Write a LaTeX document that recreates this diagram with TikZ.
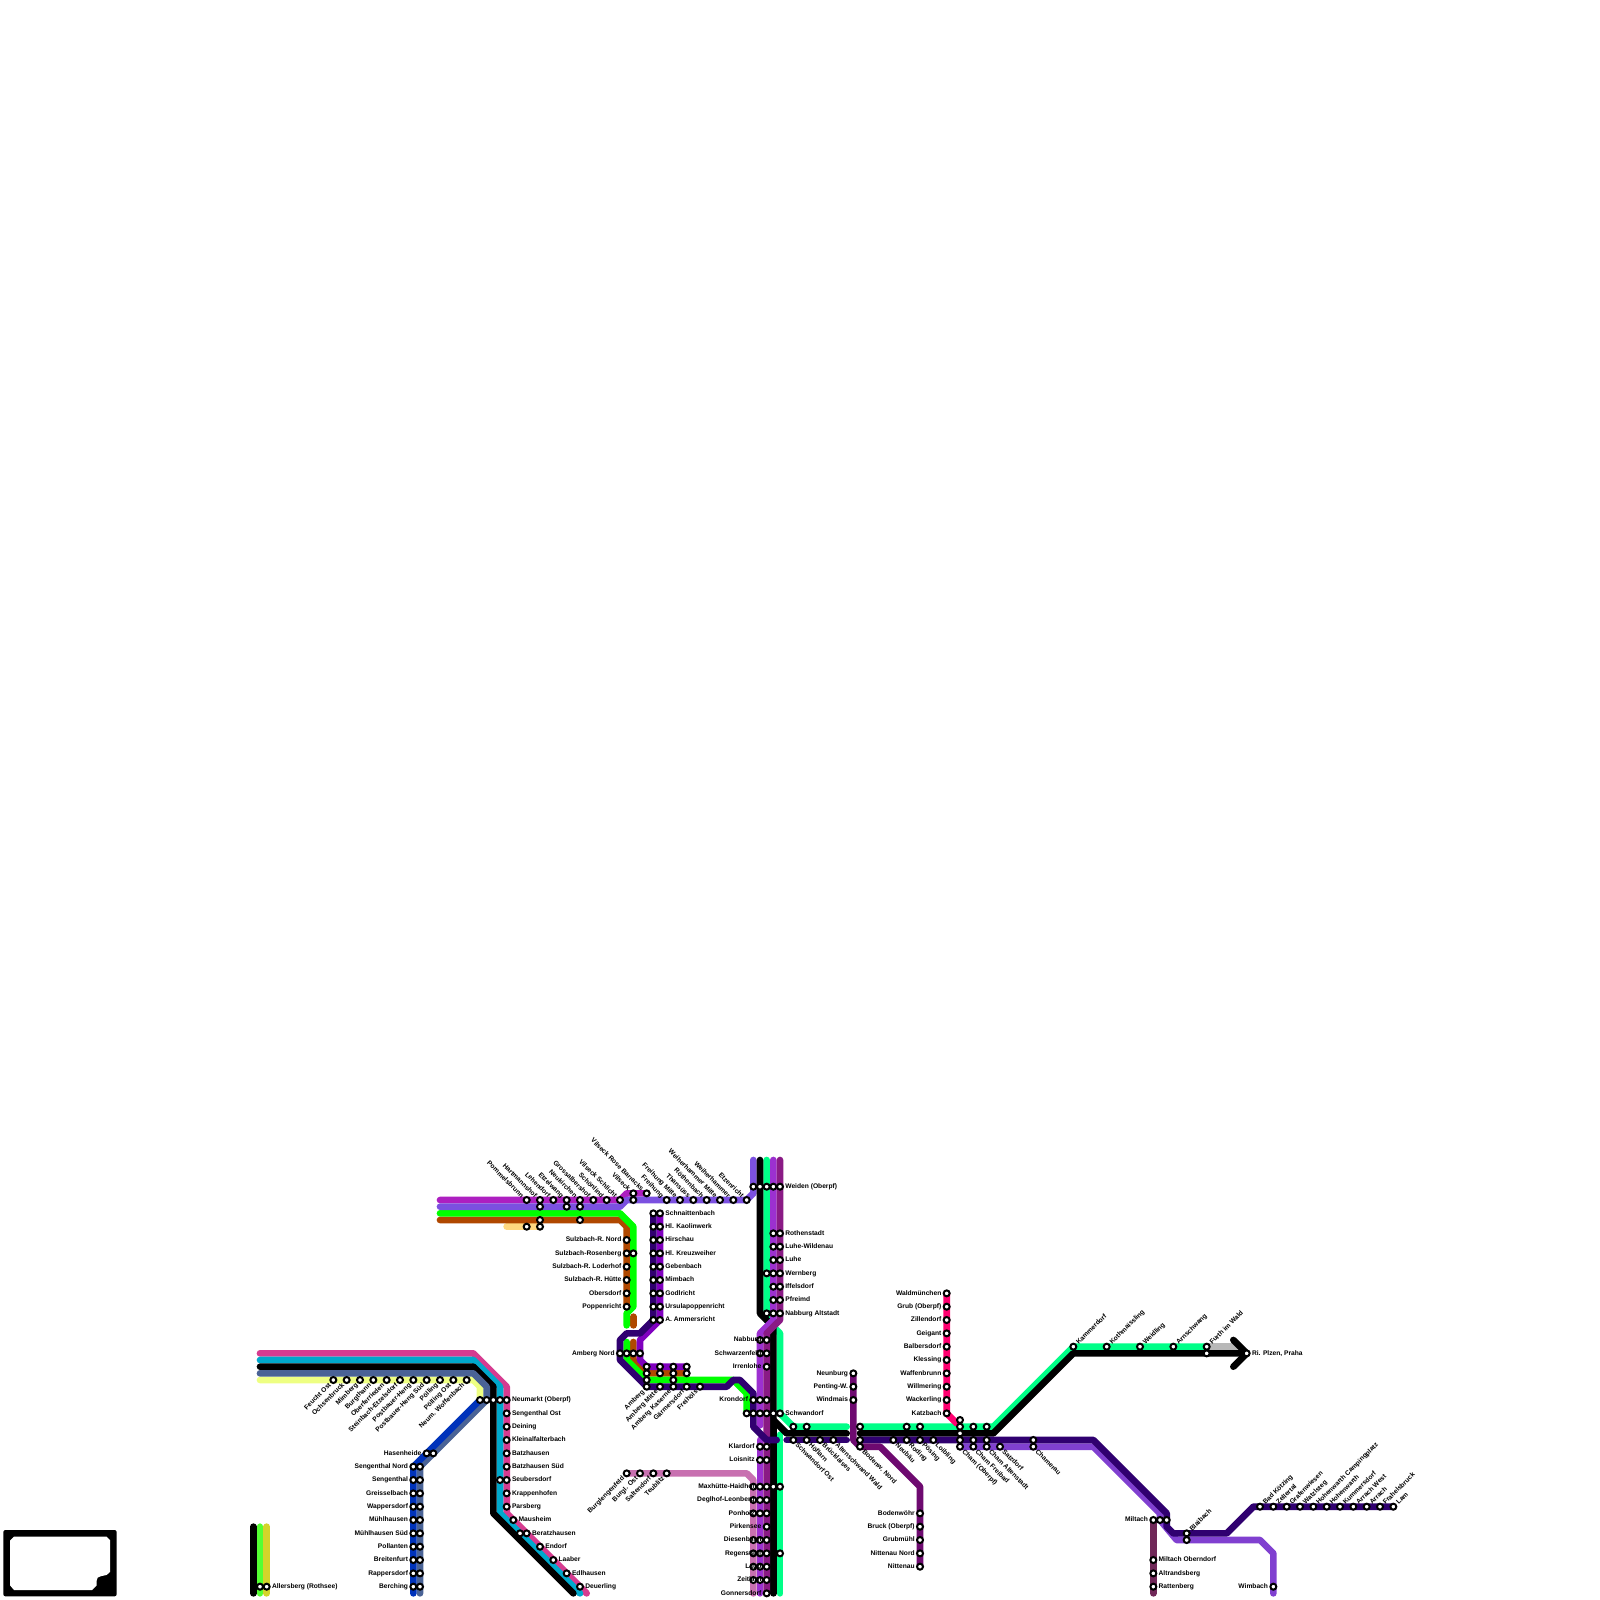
\documentclass[tikz,border=0pt]{standalone}
\usepackage{fontspec}
\setmainfont{Liberation Sans}
\pgfdeclarelayer{labels}
\pgfsetlayers{main,labels}
\definecolor{cPink}{HTML}{D63C90}
\definecolor{cTeal}{HTML}{00A8CC}
\definecolor{cSlate}{HTML}{4A6396}
\definecolor{cPale}{HTML}{EEFF82}
\definecolor{cBlue}{HTML}{0033BB}
\definecolor{cOlive}{HTML}{D4D42A}
\definecolor{cLime}{HTML}{55FF33}
\definecolor{cGreen}{HTML}{00FF00}
\definecolor{cBrown}{HTML}{B04800}
\definecolor{cOrange}{HTML}{FFD880}
\definecolor{cMagenta}{HTML}{AD1FC0}
\definecolor{cPurple}{HTML}{7B50E0}
\definecolor{cIndigo}{HTML}{300070}
\definecolor{cViolet}{HTML}{8000BF}
\definecolor{cSpring}{HTML}{00FF88}
\definecolor{cBright}{HTML}{9C30D0}
\definecolor{cDark}{HTML}{8A1A85}
\definecolor{cMauve}{HTML}{C870B0}
\definecolor{cPlum}{HTML}{6E0A70}
\definecolor{cRed}{HTML}{FF0070}
\definecolor{cGrey}{HTML}{B8B8B8}
\definecolor{cLilac}{HTML}{8040D0}
\definecolor{cMaroon}{HTML}{702858}
\tikzset{
  ln/.style={line width=6.67pt,line cap=round,line join=round},
  stn/.style={circle,draw=black,fill=white,line width=2pt,minimum size=6pt,inner sep=0pt,outer sep=0pt},
  lab/.style={inner sep=0pt,outer sep=0pt,font=\fontsize{6.67}{7}\selectfont\bfseries},
}
\newcommand{\Rw}[3]{\foreach \xx [count=\ii] in {#3} {\node[stn] (#1-\ii) at (\xx,#2) {};}}
\newcommand{\LR}[2]{\begin{pgfonlayer}{labels}\node[lab,anchor=mid west] (#1-t) at ([shift={(.4,-.05)}]#1.center) {#2};\end{pgfonlayer}}
\newcommand{\LL}[2]{\begin{pgfonlayer}{labels}\node[lab,anchor=mid east] (#1-t) at ([shift={(-.4,-.05)}]#1.center) {#2};\end{pgfonlayer}}
\newcommand{\LDL}[2]{\begin{pgfonlayer}{labels}\node[lab,rotate=45,anchor=mid east] (#1-t) at ([shift={(-.28,.28)}]#1.center) {#2};\end{pgfonlayer}}
\newcommand{\LUR}[2]{\begin{pgfonlayer}{labels}\node[lab,rotate=45,anchor=mid west] (#1-t) at ([shift={(.28,-.28)}]#1.center) {#2};\end{pgfonlayer}}
\newcommand{\LUL}[2]{\begin{pgfonlayer}{labels}\node[lab,rotate=-45,anchor=mid east] (#1-t) at ([shift={(-.28,-.28)}]#1.center) {#2};\end{pgfonlayer}}
\newcommand{\LDR}[2]{\begin{pgfonlayer}{labels}\node[lab,rotate=-45,anchor=mid west] (#1-t) at ([shift={(.28,.28)}]#1.center) {#2};\end{pgfonlayer}}
\begin{document}
\begin{tikzpicture}[x=13.33333pt,y=-13.33333pt]
\fill[white] (0,0) rectangle (120,120);
\useasboundingbox (0,0) rectangle (120,120);
% waypoints
\foreach \n/\a/\b in {
 pk1/19.5/101.5,pk2/35.5/101.5,pk3/38/104,pk4/38/113.5,pk5/44/119.5,
 te1/19.5/102,te2/35.5/102,te3/37.5/104,te4/37.5/113.5,te5/43.5/119.5,
 bk1/19.5/102.5,bk2/35.5/102.5,bk3/37/104,bk4/37/113.5,bk5/43/119.5,
 sl1/19.5/103,sl2/35.5/103,sl3/36.5/104,sl4/36.5/105,sl5/31.5/110,sl6/31.5/119.5,
 pa1/19.5/103.5,pa2/35.5/103.5,pa3/36/104,pa4/36/105,
 bl1/31/110,bl2/31/119.5,
 ab1/19/114.5,ab2/19/119.5,ab3/19.5/114.5,ab4/19.5/119.5,ab5/20/114.5,ab6/20/119.5,
 mg1/33/90,mg2/46.5/90,mg3/47/89.5,mg4/48.5/89.5,
 pu1/33/90.5,pu2/46.5/90.5,pu3/47/90,pu4/56/90,pu5/56.5/89.5,pu6/56.5/87,
 gr1/33/91,gr2/46.5/91,gr3/47.5/92,gr4/47.5/98,gr5/47/98.5,gr6/47/99.4,
 gr7/47/100.65,gr8/47/102,gr9/48.5/103.5,gr10/55/103.5,gr11/56/104.5,gr12/56/106,
 br1/33/91.5,br2/46.5/91.5,br3/47/92,br4/47/98,br5/47.5/98.75,br6/47.5/99.4,
 br7/47.5/100.65,br8/47.5/102,br9/48.5/103,br10/51.5/103,
 or1/38/92,or2/40.5/92,
 vi1/49.5/91,vi2/49.5/99,vi3/48/100.5,vi4/48/102,vi5/48.5/102.5,vi6/51.5/102.5,
 in1/49/91,in2/49/99,in3/48/100,in4/47/100,in5/46.5/100.5,in6/46.5/102,in7/48.5/104,in8/54.5/104,
 in9/55/103.5,in10/55.5/103.5,in11/56.5/104.5,in12/56.5/107,in13/57.5/108,in14/58.25/108,
 ib1/59/108,ib2/63.5/108,
 ic1/64.5/108,ic2/82/108,ic3/87.5/113.5,ic4/87.5/114.5,ic5/88/115,ic6/92/115,ic7/94/113,ic8/104.5/113,
 li1/72/108.5,li2/82/108.5,li3/87/113.5,li4/87/114,li5/88.25/115.5,li6/94.5/115.5,li7/95.5/116.5,li8/95.5/119.5,
 ma1/86.5/114,ma2/86.5/119.5,
 re1/71/97,re2/71/106,re3/71.75/106.75,
 nb1/64/103,nb2/64/108,nb3/64.5/108.5,nb4/66/108.5,nb5/69/111.5,nb6/69/117.5,
 sp1/57.5/87,sp2/57.5/99,sp3/58.5/100,sp4/58.5/106,sp5/59.5/107,sp6/63.5/107,
 sq1/64.5/107,sq2/74.5/107,sq3/80.5/101,sq4/90.5/101,sr1/58.5/107.6,sr2/58.5/119.5,
 ka1/57/87,ka2/57/98.5,ka3/58/99.5,ka4/58/106.5,ka5/59/107.5,ka6/63.5/107.5,
 kb1/64.5/107.5,kb2/74.5/107.5,kb3/80.5/101.5,kb4/93.5/101.5,kc1/58/119.5,
 ch1/92.5/100.5,ch2/92.5/102.5,gy1/92.75/101,
 bp1/58/87,bp2/58/99,bp3/57/100,bp4/57/106.9,bp5/57/108,bp6/57/119.5,
 dp1/58.5/87,dp2/58.5/99,dp3/57.5/100,dp4/57.5/119.5,
 mv1/47/110.5,mv2/56/110.5,mv3/56.5/111,mv4/56.5/119.5}
 {\coordinate (\n) at (\a,\b);}
% lines
\draw[ln,cPink] (pk1)--(pk2)--(pk3)--(pk4)--(pk5);
\draw[ln,cTeal] (te1)--(te2)--(te3)--(te4)--(te5);
\draw[ln,black] (bk1)--(bk2)--(bk3)--(bk4)--(bk5);
\draw[ln,cPale] (pa1)--(pa2)--(pa3)--(pa4);
\draw[ln,cSlate] (sl1)--(sl2)--(sl3)--(sl4)--(sl5)--(sl6);
\draw[ln,cBlue] (pa4)--(bl1)--(bl2);
\draw[ln,black] (ab1)--(ab2);
\draw[ln,cLime] (ab3)--(ab4);
\draw[ln,cOlive] (ab5)--(ab6);
\draw[ln,cOrange] (or1)--(or2);
\draw[ln,cBrown] (br1)--(br2)--(br3)--(br4);
\draw[ln,cBrown] (br5)--(br6);
\draw[ln,cBrown] (br7)--(br8)--(br9)--(br10);
\draw[ln,cGreen] (gr1)--(gr2)--(gr3)--(gr4)--(gr5)--(gr6);
\draw[ln,cGreen] (gr7)--(gr8)--(gr9)--(gr10)--(gr11)--(gr12);
\draw[ln,cMagenta] (mg1)--(mg2)--(mg3)--(mg4);
\draw[ln,cPurple] (pu1)--(pu2)--(pu3)--(pu4)--(pu5)--(pu6);
\draw[ln,cViolet] (vi1)--(vi2)--(vi3)--(vi4)--(vi5)--(vi6);
\draw[ln,cSpring] (sp1)--(sp2)--(sp3)--(sp4)--(sp5)--(sp6);
\draw[ln,cSpring] (sq1)--(sq2)--(sq3)--(sq4);
\draw[ln,cSpring] (sr1)--(sr2);
\draw[ln,cGrey] (sq4)--(gy1);
\draw[ln,black] (ka1)--(ka2)--(ka3)--(ka4)--(ka5)--(ka6);
\draw[ln,black] (kb1)--(kb2)--(kb3)--(kb4);
\draw[ln,black] (ka4)--(kc1);
\draw[ln,black] (ch1)--(kb4)--(ch2);
\draw[ln,cMauve] (mv1)--(mv2)--(mv3)--(mv4);
\draw[ln,cBright] (bp1)--(bp2)--(bp3)--(bp4);
\draw[ln,cBright] (bp5)--(bp6);
\draw[ln,cDark] (dp1)--(dp2)--(dp3)--(dp4);
\draw[ln,cRed] (re1)--(re2)--(re3);
\draw[ln,cLilac] (li1)--(li2)--(li3)--(li4)--(li5)--(li6)--(li7)--(li8);
\draw[ln,cIndigo] (in1)--(in2)--(in3)--(in4)--(in5)--(in6)--(in7)--(in8)--(in9)--(in10)--(in11)--(in12)--(in13)--(in14);
\draw[ln,cIndigo] (ib1)--(ib2);
\draw[ln,cIndigo] (ic1)--(ic2)--(ic3)--(ic4)--(ic5)--(ic6)--(ic7)--(ic8);
\draw[ln,cPlum] (nb1)--(nb2)--(nb3)--(nb4)--(nb5)--(nb6);
\draw[ln,cMaroon] (ma1)--(ma2);
% frame at bottom left
\fill[black,rounded corners=2pt] (0.25,114.75) rectangle (8.75,119.72);
\fill[white] (1.05,115.25)--(8,115.25)--(8.25,115.5)--(8.25,117.9)--(8,118.12)--(7.55,118.22) .. controls (7.35,118.25) and (7.25,118.35) .. (7.25,118.55)--(7.25,118.9)--(6.9,119.25)--(1.05,119.25)--(0.75,118.9)--(0.75,115.55)--cycle;
% stations and labels
\Rw{aa}{119}{19.5,20} \LR{aa-2}{Allersberg (Rothsee)}
\Rw{wa}{103.5}{25,26,27,28,29,30,31,32,33,34,35}
\LDL{wa-1}{Feucht Ost}\LDL{wa-2}{Ochsenbruck}\LDL{wa-3}{Mimberg}\LDL{wa-4}{Burgthann}\LDL{wa-5}{Oberferrieden}\LDL{wa-6}{Steinbach-Etzelsdorf}\LDL{wa-7}{Postbauer-Heng}\LDL{wa-8}{Postbauer-Heng Süd}\LDL{wa-9}{Pölling}\LDL{wa-10}{Pölling Ost}\LDL{wa-11}{Neum. Woffenbach}
\Rw{nm}{105}{36,36.5,37,37.5,38} \LR{nm-5}{Neumarkt (Oberpf)}
\Rw{ea}{106}{38} \LR{ea-1}{Sengenthal Ost}
\Rw{eb}{107}{38} \LR{eb-1}{Deining}
\Rw{ec}{108}{38} \LR{ec-1}{Kleinalfalterbach}
\Rw{ed}{109}{38} \LR{ed-1}{Batzhausen}
\Rw{ee}{110}{38} \LR{ee-1}{Batzhausen Süd}
\Rw{ef}{111}{37.5,38} \LR{ef-2}{Seubersdorf}
\Rw{eg}{112}{38} \LR{eg-1}{Krappenhofen}
\Rw{eh}{113}{38} \LR{eh-1}{Parsberg}
\Rw{ei}{114}{38.5} \LR{ei-1}{Mausheim}
\Rw{ej}{115}{39,39.5} \LR{ej-2}{Beratzhausen}
\Rw{ek}{116}{40.5} \LR{ek-1}{Endorf}
\Rw{el}{117}{41.5} \LR{el-1}{Laaber}
\Rw{em}{118}{42.5} \LR{em-1}{Edlhausen}
\Rw{en}{119}{43.5} \LR{en-1}{Deuerling}
\Rw{ha}{109}{32,32.5} \LL{ha-1}{Hasenheide}
\Rw{sa}{110}{31,31.5} \LL{sa-1}{Sengenthal Nord}
\Rw{sb}{111}{31,31.5} \LL{sb-1}{Sengenthal}
\Rw{sc}{112}{31,31.5} \LL{sc-1}{Greisselbach}
\Rw{sd}{113}{31,31.5} \LL{sd-1}{Wappersdorf}
\Rw{se}{114}{31,31.5} \LL{se-1}{Mühlhausen}
\Rw{sf}{115}{31,31.5} \LL{sf-1}{Mühlhausen Süd}
\Rw{sg}{116}{31,31.5} \LL{sg-1}{Pollanten}
\Rw{sh}{117}{31,31.5} \LL{sh-1}{Breitenfurt}
\Rw{si}{118}{31,31.5} \LL{si-1}{Rappersdorf}
\Rw{sj}{119}{31,31.5} \LL{sj-1}{Berching}
% north-west
\Rw{na}{89.5}{47.5,48.5} \LUL{na-1}{Vilseck}\LUL{na-2}{Vilseck Rose Barracks}
\Rw{nc}{90}{39.5,40.5,41.5,42.5,43.5,44.5,45.5,46.5,47.5,50,51,52,53,54,55,56}
\LUL{nc-1}{Pommelsbrunn}\LUL{nc-2}{Hartmannshof}\LUL{nc-3}{Lehendorf}\LUL{nc-4}{Etzelwang}\LUL{nc-5}{Neukirchen}\LUL{nc-6}{Grossalbershof}\LUL{nc-7}{Schönlind}\LUL{nc-8}{Vilseck Schlicht}\LUL{nc-10}{Freihung}\LUL{nc-11}{Freihung Mitte}\LUL{nc-12}{Thansüss}\LUL{nc-13}{Röthenbach}\LUL{nc-14}{Weiherhammer Mitte}\LUL{nc-15}{Weiherhammer}\LUL{nc-16}{Etzenricht}
\Rw{nd}{90.5}{40.5,42.5,43.5}
\Rw{ne}{91.5}{40.5,43.5}
\Rw{nf}{92}{39.5,40.5}
\Rw{ua}{93}{47} \LL{ua-1}{Sulzbach-R. Nord}
\Rw{ub}{94}{47,47.5} \LL{ub-1}{Sulzbach-Rosenberg}
\Rw{uc}{95}{47} \LL{uc-1}{Sulzbach-R. Loderhof}
\Rw{ud}{96}{47} \LL{ud-1}{Sulzbach-R. Hütte}
\Rw{ue}{97}{47} \LL{ue-1}{Obersdorf}
\Rw{uf}{98}{47} \LL{uf-1}{Poppenricht}
\Rw{ta}{91}{49,49.5} \LR{ta-2}{Schnaittenbach}
\Rw{tb}{92}{49,49.5} \LR{tb-2}{Hl. Kaolinwerk}
\Rw{tc}{93}{49,49.5} \LR{tc-2}{Hirschau}
\Rw{td}{94}{49,49.5} \LR{td-2}{Hl. Kreuzweiher}
\Rw{te}{95}{49,49.5} \LR{te-2}{Gebenbach}
\Rw{tf}{96}{49,49.5} \LR{tf-2}{Mimbach}
\Rw{tg}{97}{49,49.5} \LR{tg-2}{Godlricht}
\Rw{th}{98}{49,49.5} \LR{th-2}{Ursulapoppenricht}
\Rw{ti}{99}{49,49.5} \LR{ti-2}{A. Ammersricht}
% Amberg
\Rw{am}{101.5}{46.5,47,47.5,48} \LL{am-1}{Amberg Nord}
\Rw{ap}{102.5}{48.5,49.5,50.5,51.5}
\Rw{aq}{103}{48.5,49.5,50.5,51.5}
\Rw{ar}{103.5}{48.5,50.5}
\Rw{as}{104}{48.5,49.5,50.5,51.5,52.5}
\LDL{as-1}{Amberg}\LDL{as-2}{Amberg Mitte}\LDL{as-3}{Amberg Kaserne}\LDL{as-4}{Gärmersdorf}\LDL{as-5}{Freihöls}
% north trunk
\Rw{va}{89}{56.5,57,57.5,58,58.5} \LR{va-5}{Weiden (Oberpf)}
\Rw{vb}{92.5}{58,58.5} \LR{vb-2}{Rothenstadt}
\Rw{vc}{93.5}{58,58.5} \LR{vc-2}{Luhe-Wildenau}
\Rw{vd}{94.5}{58,58.5} \LR{vd-2}{Luhe}
\Rw{ve}{95.5}{57.5,58,58.5} \LR{ve-3}{Wernberg}
\Rw{vf}{96.5}{58,58.5} \LR{vf-2}{Iffelsdorf}
\Rw{vg}{97.5}{58,58.5} \LR{vg-2}{Pfreimd}
\Rw{vh}{98.5}{57.5,58,58.5} \LR{vh-3}{Nabburg Altstadt}
\Rw{wb}{100.5}{57,57.5} \LL{wb-2}{Nabburg}
\Rw{wc}{101.5}{57,57.5} \LL{wc-2}{Schwarzenfeld}
\Rw{wd}{102.5}{57.5} \LL{wd-1}{Irrenlohe}
\Rw{we}{105}{56.5,57,57.5} \LL{we-1}{Krondorf}
\Rw{wf}{106}{56,56.5,57,57.5,58,58.5} \LR{wf-6}{Schwandorf}
% south trunk
\Rw{xa}{108.5}{57,57.5} \LL{xa-1}{Klardorf}
\Rw{xb}{109.5}{57,57.5} \LL{xb-1}{Loisnitz}
\Rw{xc}{111.5}{56.5,57,57.5,58,58.5} \LL{xc-2}{Maxhütte-Haidhof}
\Rw{xd}{112.5}{56.5,57,57.5} \LL{xd-2}{Deglhof-Leonberg}
\Rw{xe}{113.5}{56.5,57,57.5} \LL{xe-2}{Ponholz}
\Rw{xf}{114.5}{57.5} \LL{xf-1}{Pirkensee}
\Rw{xg}{115.5}{56.5,57,57.5} \LL{xg-3}{Diesenbach}
\Rw{xh}{116.5}{56.5,57,57.5,58.5} \LL{xh-3}{Regenstauf}
\Rw{xi}{117.5}{56.5,57,57.5} \LL{xi-3}{Laub}
\Rw{xj}{118.5}{56.5,57,57.5} \LL{xj-3}{Zeitlarn}
\Rw{xk}{119.5}{57.5} \LL{xk-1}{Gonnersdorf}
\Rw{ya}{110.5}{47,48,49,50} \LDL{ya-1}{Burglengenfeld}\LDL{ya-2}{Burgl. Ost}\LDL{ya-3}{Saltendorf}\LDL{ya-4}{Teublitz}
% Neunburg and Bodenwoehr
\Rw{za}{103}{64} \LL{za-1}{Neunburg}
\Rw{zb}{104}{64} \LL{zb-1}{Penting-W.}
\Rw{zc}{105}{64} \LL{zc-1}{Windmais}
\Rw{zd}{113.5}{69} \LL{zd-1}{Bodenwöhr}
\Rw{ze}{114.5}{69} \LL{ze-1}{Bruck (Oberpf)}
\Rw{zf}{115.5}{69} \LL{zf-1}{Grubmühl}
\Rw{zg}{116.5}{69} \LL{zg-1}{Nittenau Nord}
\Rw{zh}{117.5}{69} \LL{zh-1}{Nittenau}
% Cham corridor
\Rw{ca}{107}{59.5,60.5,64.5,68,69,72,73,74}
\Rw{cb}{107.5}{72}
\Rw{cc}{108}{59.5,60.5,61.5,62.5,64.5,67,68,69,70,72,73,74,77.5}
\Rw{cd}{108.5}{64.5,72,73,74,75,77.5}
\Rw{ce}{106.5}{72}
\LDR{cc-1}{Schwandorf Ost}\LDR{cc-2}{Höflarn}\LDR{cc-3}{Brücklaises}\LDR{cc-4}{Altenschwand Wald}\LDR{cd-1}{Bodenw. Nord}\LDR{cc-6}{Neubäu}\LDR{cc-7}{Roding}\LDR{cc-8}{Pösing}\LDR{cc-9}{Loibling}\LDR{cd-2}{Cham (Oberpf)}\LDR{cd-3}{Cham Freibad}\LDR{cd-4}{Cham Altenstadt}\LDR{cd-5}{Satzdorf}\LDR{cd-6}{Chamerau}
% Waldmuenchen
\Rw{ra}{97}{71} \LL{ra-1}{Waldmünchen}
\Rw{rb}{98}{71} \LL{rb-1}{Grub (Oberpf)}
\Rw{rc}{99}{71} \LL{rc-1}{Zillendorf}
\Rw{rd}{100}{71} \LL{rd-1}{Geigant}
\Rw{re}{101}{71} \LL{re-1}{Balbersdorf}
\Rw{rf}{102}{71} \LL{rf-1}{Klessing}
\Rw{rg}{103}{71} \LL{rg-1}{Waffenbrunn}
\Rw{rh}{104}{71} \LL{rh-1}{Willmering}
\Rw{ri}{105}{71} \LL{ri-1}{Wackerling}
\Rw{rj}{106}{71} \LL{rj-1}{Katzbach}
% Furth
\Rw{fa}{101}{80.5,83,85.5,88,90.5}
\LUR{fa-1}{Kammerdorf}\LUR{fa-2}{Kothmaissling}\LUR{fa-3}{Weidling}\LUR{fa-4}{Arnschwang}\LUR{fa-5}{Furth im Wald}
\Rw{fb}{101.5}{90.5,93.5} \LR{fb-2}{Ri. Plzen, Praha}
% Lam
\Rw{ga}{114}{86.5,87,87.5} \LL{ga-1}{Miltach}
\Rw{gb}{115}{89} \LUR{gb-1}{Blaibach}
\Rw{gc}{115.5}{89}
\Rw{gd}{117}{86.5} \LR{gd-1}{Miltach Oberndorf}
\Rw{ge}{118}{86.5} \LR{ge-1}{Altrandsberg}
\Rw{gf}{119}{86.5,95.5} \LR{gf-1}{Rattenberg}\LL{gf-2}{Wimbach}
\Rw{la}{113}{94.5,95.5,96.5,97.5,98.5,99.5,100.5,101.5,102.5,103.5,104.5}
\LUR{la-1}{Bad Kötzing}\LUR{la-2}{Zellertal}\LUR{la-3}{Grafenwiesen}\LUR{la-4}{Watzlsteg}\LUR{la-5}{Hohenwarth Campingplatz}\LUR{la-6}{Hohenwarth}\LUR{la-7}{Kummersdorf}\LUR{la-8}{Arrach West}\LUR{la-9}{Arrach}\LUR{la-10}{Frahelsbruck}\LUR{la-11}{Lam}
\end{tikzpicture}
\end{document}
